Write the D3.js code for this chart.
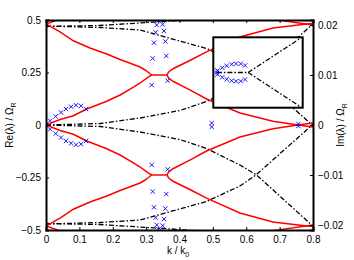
<!DOCTYPE html>
<html>
<head>
<meta charset="utf-8">
<script src="https://d3js.org/d3.v7.min.js"></script>
<style>
body { margin: 0; background: #fff; }
text { font-family: "Liberation Sans", Arial, sans-serif; font-size: 10px; fill: #000; }
</style>
</head>
<body>
<div id="chart"></div>
<script>
// tick values
const kTicks = [0, 0.1, 0.2, 0.3, 0.4, 0.5, 0.6, 0.7, 0.8];
const reTicks = [-0.5, -0.25, 0, 0.25, 0.5];
const imTicks = [-0.02, -0.01, 0, 0.01, 0.02];

// Re(lambda) branches, upper half (lower half is the mirror image)
const reFromZero = [[0,0],[0.042,0.026],[0.082,0.044],[0.122,0.076],[0.182,0.113],[0.222,0.143],[0.262,0.18],[0.282,0.2],[0.297,0.217],[0.307,0.229],[0.317,0.238]];
const reFromTop = [[0,0.481],[0.042,0.443],[0.082,0.401],[0.132,0.367],[0.182,0.338],[0.222,0.312],[0.262,0.288],[0.282,0.276],[0.297,0.262],[0.307,0.25],[0.317,0.238]];
const reFlat = [[0.317,0.238],[0.362,0.238]];
const reRising = [[0.362,0.238],[0.369,0.255],[0.382,0.269],[0.431,0.307],[0.481,0.348],[0.581,0.419],[0.68,0.462],[0.781,0.481],[0.8,0.483]];
const reFalling = [[0.362,0.238],[0.369,0.221],[0.382,0.207],[0.431,0.167],[0.481,0.124],[0.581,0.057],[0.68,0.018],[0.755,0],[0.8,-0.01]];
const reCornerL = [[0,0.481],[0.04,0.503]];
const reCornerR = [[0.68,0.503],[0.8,0.476]];

// Im(lambda) branches, upper half
const imRise = [[0,0],[0.162,0.0003],[0.282,0.0014],[0.401,0.0029],[0.481,0.0047],[0.581,0.008],[0.631,0.01],[0.796,0.02],[0.8,0.0205]];
const imFall = [[0,0.0198],[0.162,0.0195],[0.282,0.019],[0.481,0.0153],[0.581,0.0122],[0.629,0.01],[0.796,0.0001],[0.8,-0.0003]];
const imTop = [[0,0.0197],[0.16,0.0199],[0.4,0.0209],[0.55,0.0216]];

// numerical points (k, Re), upper half
const numPts = [[0,0],[0.012,0.0205],[0.029,0.041],[0.045,0.06],[0.06,0.076],[0.075,0.087],[0.09,0.094],[0.105,0.091],[0.12,0.076],
  [0.3167,0.19],[0.3197,0.317],[0.3236,0.392],[0.3287,0.441],[0.3317,0.476],[0.3365,0.497],
  [0.3646,0.211],[0.3604,0.329],[0.3575,0.398],[0.3536,0.448],[0.3497,0.479],[0.3437,0.498],
  [0.4965,0.009],[0.756,0.005]];

// inset contents (inset units)
const insetLine = [[0.04,0],[0.39,0]];
const insetForkUp = [[0.39,0],[0.99,1]];
const insetForkDown = [[0.39,0],[0.99,-1]];
const insetPts = [[0.04,0],[0.045,0.06],[0.10,0.135],[0.15,0.19],[0.205,0.233],[0.254,0.25],[0.306,0.247],[0.355,0.2]];

const W = 354, H = 260;
const svg = d3.select("#chart").append("svg").attr("width", W).attr("height", H);

const x = d3.scaleLinear().domain([0, 0.8]).range([46, 313]);
const yRe = d3.scaleLinear().domain([-0.5, 0.5]).range([230, 20]);
const yIm = d3.scaleLinear().domain([-0.021, 0.021]).range([230, 20]);

svg.append("clipPath").attr("id", "plotclip")
  .append("rect").attr("x", 46).attr("y", 20).attr("width", 267).attr("height", 210);

const plot = svg.append("g").attr("clip-path", "url(#plotclip)");

const mirror = arr => arr.map(d => [d[0], -d[1]]);
const lineRe = d3.line().x(d => x(d[0])).y(d => yRe(d[1]));
const lineIm = d3.line().x(d => x(d[0])).y(d => yIm(d[1]));

// Im curves, dash-dot
[imRise, imFall, imTop].forEach(c => {
  [c, mirror(c)].forEach(cc => {
    plot.append("path").attr("d", lineIm(cc))
      .attr("fill", "none").attr("stroke", "#000").attr("stroke-width", 1.3)
      .attr("stroke-dasharray", "5,2,1.5,2");
  });
});

// Re curves, red
[reFromZero, reFromTop, reFlat, reRising, reFalling, reCornerL, reCornerR].forEach(c => {
  [c, mirror(c)].forEach(cc => {
    plot.append("path").attr("d", lineRe(cc))
      .attr("fill", "none").attr("stroke", "#ff0000").attr("stroke-width", 1.5);
  });
});

// numerical points
const cross = d3.symbol().type(d3.symbolX).size(14);
const allPts = numPts.concat(mirror(numPts.filter(d => d[1] !== 0)));
plot.selectAll(".pt").data(allPts).join("path")
  .attr("class", "pt")
  .attr("d", cross)
  .attr("transform", d => `translate(${x(d[0])},${yRe(d[1])})`)
  .attr("fill", "none").attr("stroke", "#0000ff").attr("stroke-width", 0.9);

// inset
const ix = d3.scaleLinear().domain([0, 1]).range([213.3, 302.7]);
const iy = d3.scaleLinear().domain([-1, 1]).range([107.7, 37.3]);
svg.append("clipPath").attr("id", "insetclip")
  .append("rect").attr("x", 213.3).attr("y", 37.3).attr("width", 89.4).attr("height", 70.4);
svg.append("rect").attr("x", 213.3).attr("y", 37.3).attr("width", 89.4).attr("height", 70.4)
  .attr("fill", "#fff");
const inset = svg.append("g").attr("clip-path", "url(#insetclip)");
const lineIn = d3.line().x(d => ix(d[0])).y(d => iy(d[1]));
[insetLine, insetForkUp, insetForkDown].forEach(c => {
  inset.append("path").attr("d", lineIn(c))
    .attr("fill", "none").attr("stroke", "#000").attr("stroke-width", 1.3)
    .attr("stroke-dasharray", "5,2,1.5,2");
});
const inPts = insetPts.concat(mirror(insetPts.filter(d => d[1] !== 0)));
inset.selectAll(".ipt").data(inPts).join("path")
  .attr("d", cross)
  .attr("transform", d => `translate(${ix(d[0])},${iy(d[1])})`)
  .attr("fill", "none").attr("stroke", "#0000ff").attr("stroke-width", 0.9);
svg.append("rect").attr("x", 213.3).attr("y", 37.3).attr("width", 89.4).attr("height", 70.4)
  .attr("fill", "none").attr("stroke", "#000").attr("stroke-width", 2);

// axes (ticks pointing inward)
const fmtMinus = d => d3.format("")(d).replace("-", "\u2212");
const axBottom = svg.append("g").attr("transform", "translate(0,230)")
  .call(d3.axisBottom(x).tickValues(kTicks).tickSize(-3).tickPadding(6).tickFormat(d3.format("")));
const axTop = svg.append("g").attr("transform", "translate(0,20)")
  .call(d3.axisTop(x).tickValues(kTicks).tickSize(-3).tickFormat(""));
const axLeft = svg.append("g").attr("transform", "translate(46,0)")
  .call(d3.axisLeft(yRe).tickValues(reTicks).tickSize(-3).tickPadding(5).tickFormat(fmtMinus));
const axRight = svg.append("g").attr("transform", "translate(313,0)")
  .call(d3.axisRight(yIm).tickValues(imTicks).tickSize(-3).tickPadding(5).tickFormat(fmtMinus));
[axBottom, axTop, axLeft, axRight].forEach(g => {
  g.select(".domain").attr("stroke-width", 2);
  g.selectAll(".tick line").attr("stroke-width", 1);
  g.selectAll("text").attr("font-size", 10).attr("font-family", "Liberation Sans, Arial, sans-serif");
});

// axis labels
const yl = svg.append("text").attr("transform", "translate(13,125) rotate(-90)").attr("text-anchor", "middle");
yl.append("tspan").text("Re(\u03bb) / \u03a9");
yl.append("tspan").attr("dy", 3).attr("font-size", 7).text("R");
const yr = svg.append("text").attr("transform", "translate(344,125) rotate(-90)").attr("text-anchor", "middle");
yr.append("tspan").text("Im(\u03bb) / \u03a9");
yr.append("tspan").attr("dy", 3).attr("font-size", 7).text("R");
const xl = svg.append("text").attr("x", 178).attr("y", 254).attr("text-anchor", "middle");
xl.append("tspan").text("k / k");
xl.append("tspan").attr("dy", 3).attr("font-size", 7).text("0");
</script>
</body>
</html>
